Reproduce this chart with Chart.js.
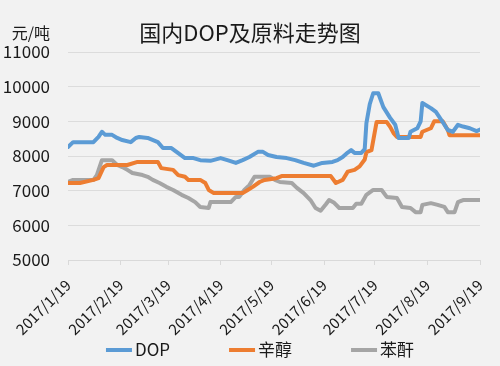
<!DOCTYPE html>
<html>
<head>
<meta charset="utf-8">
<script src="https://cdn.jsdelivr.net/npm/chart.js@4"></script>
<style>
  html, body { margin: 0; padding: 0; background: #f2f2f2; }
  #wrap { width: 500px; height: 366px; }
</style>
</head>
<body>
<div id="wrap"><canvas id="chart" width="500" height="366"></canvas></div>
<script>
// x = days since 2017/1/19
const tickDays = [0, 31, 59, 90, 120, 151, 181, 212, 243];
const tickLabels = ['2017/1/19', '2017/2/19', '2017/3/19', '2017/4/19', '2017/5/19',
  '2017/6/19', '2017/7/19', '2017/8/19', '2017/9/19'];

const dopDays = [0, 3, 15, 18, 20, 22, 26, 29, 32, 37, 40, 42, 47, 53, 56, 61, 64, 69, 74, 78,
  84, 90, 94, 99, 103, 107, 112, 115, 118, 123, 129, 134, 139, 145, 150, 156, 159, 162, 165, 167,
  169, 173, 175, 176, 178, 180, 183, 186, 190, 193, 195, 201, 202, 206, 208, 209, 214, 217, 221,
  224, 227, 230, 233, 237, 241, 243];
const dopValues = [8260, 8400, 8400, 8550, 8700, 8610, 8610, 8520, 8460, 8400, 8520, 8550, 8520,
  8400, 8230, 8230, 8120, 7940, 7940, 7880, 7860, 7940, 7880, 7800, 7880, 7970, 8120, 8120, 8030,
  7970, 7940, 7880, 7800, 7720, 7800, 7830, 7880, 7970, 8100, 8170, 8090, 8090, 8200, 8950, 9500,
  9810, 9810, 9410, 9100, 8900, 8520, 8520, 8700, 8800, 9000, 9530, 9380, 9270, 8980, 8750, 8700,
  8900, 8850, 8800, 8720, 8760];

const octDays = [0, 7, 15, 18, 21, 23, 35, 41, 53, 55, 62, 65, 69, 71, 78, 81, 83, 86, 103, 106,
  109, 113, 116, 123, 126, 155, 158, 162, 165, 169, 172, 175, 176, 179, 182, 188, 190, 192, 194,
  208, 209, 214, 216, 221, 224, 225, 243];
const octValues = [7220, 7220, 7310, 7360, 7680, 7740, 7740, 7830, 7830, 7650, 7600, 7450, 7400,
  7310, 7310, 7220, 7020, 6930, 6930, 7020, 7110, 7250, 7310, 7360, 7420, 7420, 7220, 7310, 7550,
  7600, 7700, 7900, 8110, 8170, 8980, 8980, 8840, 8660, 8550, 8550, 8700, 8800, 9000, 9000, 8750,
  8600, 8600];

const paDays = [0, 3, 15, 17, 20, 26, 29, 32, 35, 38, 44, 47, 50, 54, 58, 62, 67, 71, 75, 78, 83,
  84, 96, 99, 101, 104, 107, 110, 119, 122, 125, 132, 135, 139, 143, 146, 149, 152, 154, 157, 160,
  168, 170, 173, 176, 180, 185, 188, 194, 197, 202, 205, 208, 209, 214, 218, 222, 224, 228, 230,
  233, 243];
const paValues = [7250, 7310, 7310, 7450, 7880, 7880, 7740, 7680, 7600, 7510, 7450, 7400, 7310,
  7220, 7110, 7020, 6880, 6790, 6670, 6530, 6500, 6670, 6670, 6820, 6820, 7020, 7160, 7400, 7400,
  7310, 7250, 7220, 7080, 6930, 6730, 6500, 6420, 6600, 6730, 6650, 6500, 6500, 6620, 6620, 6880,
  7020, 7020, 6820, 6790, 6530, 6500, 6380, 6380, 6590, 6640, 6590, 6530, 6380, 6380, 6670, 6730,
  6730];

const yTicks = [5000, 6000, 7000, 8000, 9000, 10000, 11000];

function toPoints(days, values) {
  return days.map((d, i) => ({ x: d, y: values[i] }));
}

const FONT = '"Noto Sans CJK SC", "Noto Sans", sans-serif';

const textPlugin = {
  id: 'texts',
  afterDraw(chart) {
    const ctx = chart.ctx;
    ctx.save();
    ctx.fillStyle = '#1a1a1a';
    ctx.textBaseline = 'middle';
    ctx.font = '22px ' + FONT;
    ctx.textAlign = 'center';
    ctx.fillText('国内DOP及原料走势图', 250, 33);
    ctx.font = '16px ' + FONT;
    ctx.textAlign = 'right';
    ctx.fillText('元/吨', 50, 33);
    ctx.restore();
  }
};

// legend drawn by hand so item spacing matches the original
const legendPlugin = {
  id: 'lineLegend',
  afterDraw(chart) {
    const ctx = chart.ctx;
    const sets = chart.data.datasets;
    const lineLen = 26, gap = 3, itemGap = 59, y = 350;
    ctx.save();
    ctx.font = '17px ' + FONT;
    ctx.textBaseline = 'middle';
    ctx.textAlign = 'left';
    const widths = sets.map((ds) => lineLen + gap + ctx.measureText(ds.label).width);
    const total = widths.reduce((a, b) => a + b, 0) + itemGap * (sets.length - 1);
    let x = 260 - total / 2;
    sets.forEach((ds, i) => {
      ctx.strokeStyle = ds.borderColor;
      ctx.lineWidth = 4;
      ctx.beginPath();
      ctx.moveTo(x, y);
      ctx.lineTo(x + lineLen, y);
      ctx.stroke();
      ctx.fillStyle = '#1a1a1a';
      ctx.fillText(ds.label, x + lineLen + gap, y);
      x += widths[i] + itemGap;
    });
    ctx.restore();
  }
};

const bgPlugin = {
  id: 'bg',
  beforeDraw(chart) {
    const ctx = chart.ctx;
    ctx.save();
    ctx.fillStyle = '#f2f2f2';
    ctx.fillRect(0, 0, chart.width, chart.height);
    ctx.restore();
  }
};

const lineStyle = { borderWidth: 4, pointRadius: 0, tension: 0, borderJoinStyle: 'round', borderCapStyle: 'round' };

new Chart(document.getElementById('chart'), {
  type: 'line',
  data: {
    datasets: [
      { label: 'DOP', data: toPoints(dopDays, dopValues), borderColor: '#5b9bd5', backgroundColor: '#5b9bd5', ...lineStyle },
      { label: '辛醇', data: toPoints(octDays, octValues), borderColor: '#ed7d31', backgroundColor: '#ed7d31', ...lineStyle },
      { label: '苯酐', data: toPoints(paDays, paValues), borderColor: '#a5a5a5', backgroundColor: '#a5a5a5', ...lineStyle },
    ],
  },
  options: {
    responsive: false,
    animation: false,
    layout: { padding: { top: 52, right: 20, left: 0, bottom: 0 } },
    plugins: {
      legend: { display: false },
      tooltip: { enabled: false },
    },
    scales: {
      x: {
        type: 'linear',
        min: 0,
        max: 243,
        afterBuildTicks(scale) {
          scale.ticks = tickDays.map((v) => ({ value: v }));
        },
        afterFit(scale) {
          scale.height = 106;
          scale.paddingLeft = 0;
          scale.paddingRight = 0;
        },
        ticks: {
          autoSkip: false,
          minRotation: 45,
          maxRotation: 45,
          color: '#1a1a1a',
          font: { family: FONT, size: 15 },
          padding: 11,
          callback: (v) => tickLabels[tickDays.indexOf(v)],
        },
        grid: { drawOnChartArea: false, color: '#d9d9d9', tickLength: 5 },
        border: { color: '#d9d9d9' },
      },
      y: {
        min: 5000,
        max: 11000,
        afterBuildTicks(scale) {
          scale.ticks = yTicks.map((v) => ({ value: v }));
        },
        afterFit(scale) { scale.width = 68; },
        ticks: {
          color: '#1a1a1a',
          font: { family: FONT, size: 17 },
          padding: 18,
          callback: (v) => String(v),
        },
        grid: { color: '#dcdcdc', drawTicks: false },
        border: { display: false },
      },
    },
  },
  plugins: [bgPlugin, textPlugin, legendPlugin],
});
</script>
</body>
</html>
